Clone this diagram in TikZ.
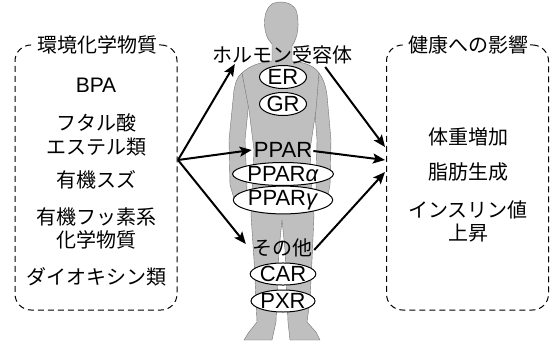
\documentclass[tikz,border=0pt]{standalone}
\usepackage{fontspec}
\setmainfont{Liberation Sans}
\newfontfamily\jp{Noto Sans CJK JP}
\usetikzlibrary{shapes.geometric,arrows.meta,calc}

\begin{document}
\begin{tikzpicture}[x=1pt,y=-1pt,
  jtext/.style={font=\jp\fontsize{20}{23.5}\selectfont, align=center, inner sep=0pt},
  ltext/.style={font=\fontsize{22}{24}\selectfont, inner sep=0pt},
  recept/.style={ellipse, draw, line width=1pt, fill=white, inner sep=0pt,
                 font=\fontsize{22}{24}\selectfont},
  dashbox/.style={draw, line width=1pt, dash pattern=on 6pt off 4pt,
                  rounded corners=16pt, minimum width=162pt, minimum height=265pt},
  boxtitle/.style={font=\jp\fontsize{20}{23}\selectfont, fill=white, inner sep=2pt},
  arr/.style={line width=2pt, -{Stealth[length=12pt,width=10pt,inset=2.5pt]}},
  body/.style={fill=black!25, draw=black!55, line width=0.4pt}]

\useasboundingbox (0,0) rectangle (553,345);

% standing human figure
\path[body] (229,140) -- (234,90) .. controls (236,80) and (238,76) .. (242,73)
  -- (249,100) -- (245,140) -- (247,185) -- (246,205) -- (236,205) -- (230,185) -- cycle;
\path[body] (331,140) -- (327,95) .. controls (325,82) and (322,77) .. (319,73)
  -- (314,100) -- (317,140) -- (316,185) -- (317,205) -- (326,205) -- (330,185) -- cycle;
\path[body] (242,73) .. controls (250,65) and (262,62) .. (272,61) -- (272,44)
  .. controls (262,35) and (262,10) .. (272,4) .. controls (280,0) and (292,2) .. (296,10)
  .. controls (300,22) and (298,38) .. (292,46) -- (292,61)
  .. controls (302,62) and (314,65) .. (319,73)
  -- (316,110) -- (310,150) -- (312,200) -- (314,215) -- (312,260) -- (310,300)
  -- (307,322) -- (316,332) -- (320,340) -- (290,340) -- (288,322) -- (285,250)
  -- (282,220) -- (279,250) -- (276,322) -- (272,340) -- (244,340) -- (249,332)
  -- (257,322) -- (256,300) -- (254,260) -- (251,215) -- (252,200) -- (254,150)
  -- (249,110) -- cycle;

% dashed boxes with titles
\node[dashbox] (envbox) at (96,177.5) {};
\node[boxtitle] (envtitle) at (97,45) {環境化学物質};
\node[dashbox] (healthbox) at (467.5,177.5) {};
\node[boxtitle] (healthtitle) at (468,45) {健康への影響};

% environmental chemicals
\node[ltext, font=\fontsize{21}{24}\selectfont] (bpa) at (96,85) {BPA};
\node[jtext] (phth) at (96,135) {フタル酸\\エステル類};
\node[jtext] (tin) at (96,180) {有機スズ};
\node[jtext] (pfc) at (96,228.5) {有機フッ素系\\化学物質};
\node[jtext] (dioxin) at (96,277) {ダイオキシン類};

% health effects
\node[jtext] (weight) at (468,137) {体重増加};
\node[jtext] (fat) at (468,172) {脂肪生成};
\node[jtext] (insulin) at (468,221.5) {インスリン値\\上昇};

% receptors
\node[jtext] (hr) at (282,55) {ホルモン受容体};
\node[recept, minimum width=47pt, minimum height=23pt] (er) at (283,77) {ER};
\node[recept, minimum width=47pt, minimum height=23pt] (gr) at (283,104) {GR};
\node[ltext] (ppar) at (283,150) {PPAR};
\node[recept, minimum width=100pt, minimum height=23pt] (ppara) at (283,174) {PPAR\textit{α}};
\node[recept, minimum width=96pt, minimum height=23pt] (pparg) at (283,200) {PPAR\textit{γ}};
\node[jtext] (other) at (282,248) {その他};
\node[recept, minimum width=61pt, minimum height=22pt] (car) at (283,274) {CAR};
\node[recept, minimum width=58pt, minimum height=22pt] (pxr) at (283,301) {PXR};

% connectors
\coordinate (src) at (178,160);
\coordinate (dst1) at (385,147);
\coordinate (dst2) at (385,160);
\coordinate (dst3) at (385,172);
\draw[arr] (src) -- ($(hr.west)+(23,9)$);
\draw[arr] (src) -- ($(ppar.west)+(-2,0)$);
\draw[arr] (src) -- ($(other.west)+(-6,-4)$);
\draw[arr] ($(hr.east)+(-27,12)$) -- (dst1);
\draw[arr] ($(ppar.east)+(1,1)$) -- (dst2);
\draw[arr] ($(other.east)+(2,2)$) -- (dst3);
\end{tikzpicture}
\end{document}
